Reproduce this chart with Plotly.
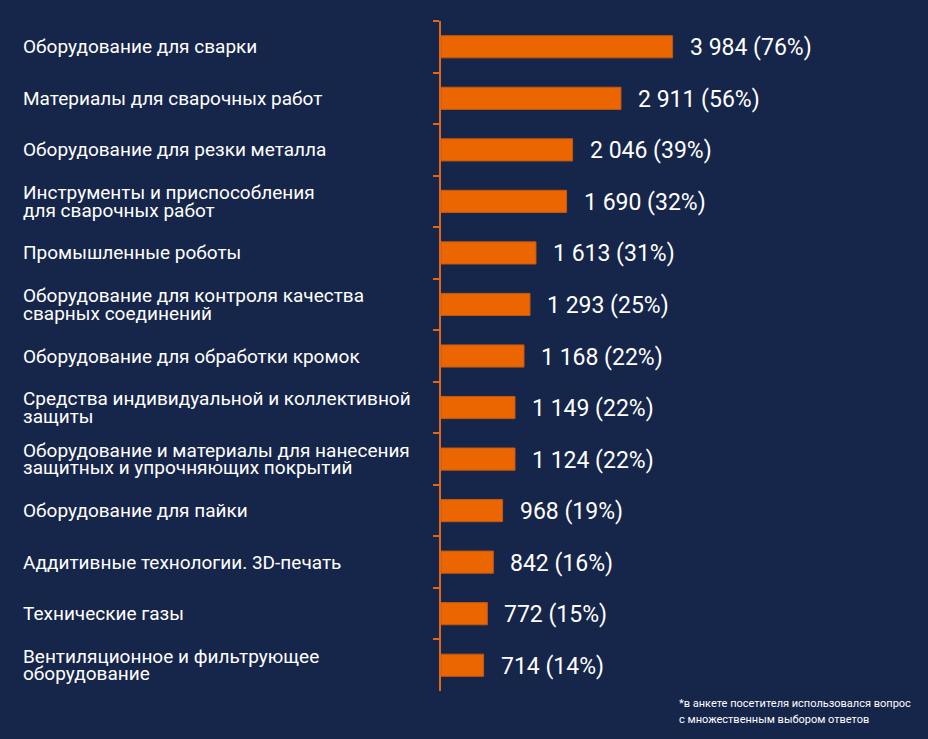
import plotly.graph_objects as go

categories = [
    "Оборудование для сварки",
    "Материалы для сварочных работ",
    "Оборудование для резки металла",
    "Инструменты и приспособления\nдля сварочных работ",
    "Промышленные роботы",
    "Оборудование для контроля качества\nсварных соединений",
    "Оборудование для обработки кромок",
    "Средства индивидуальной и коллективной\nзащиты",
    "Оборудование и материалы для нанесения\nзащитных и упрочняющих покрытий",
    "Оборудование для пайки",
    "Аддитивные технологии. 3D-печать",
    "Технические газы",
    "Вентиляционное и фильтрующее\nоборудование",
]
counts = [3984, 2911, 2046, 1690, 1613, 1293, 1168, 1149, 1124, 968, 842, 772, 714]
shares = [76, 56, 39, 32, 31, 25, 22, 22, 22, 19, 16, 15, 14]
# bar lengths as drawn in the picture (same units as counts, first bar = 3984)
bar_len = [3984, 3096, 2264, 2161, 1634, 1531, 1428, 1273, 1273, 1060, 900, 797, 733]

footnote = ["*в анкете посетителя использовался вопрос", "с множественным выбором ответов"]

BG = "#16254A"
ORANGE = "#EB6600"
FONT = "Roboto"

W, H = 928, 739
ML, MR, MT, MB = 441, 0, 21, 48
PW = W - ML - MR
PH = H - MT - MB

def px_x(x):
    return (x - ML) / PW

def px_y(y):
    return ((H - MB) - y) / PH

ykeys = [c.replace("\n", " ") for c in categories]

fig = go.Figure()
fig.add_trace(go.Bar(
    x=bar_len, y=ykeys, orientation="h", width=0.43,
    marker=dict(color=ORANGE, line=dict(color="#C4580F", width=1)),
    hoverinfo="skip", showlegend=False,
))

annotations = []
for key, cat, n, s, L in zip(ykeys, categories, counts, shares, bar_len):
    lines = cat.split("\n")
    k = len(lines)
    for i, line in enumerate(lines):
        shift = ((k - 1) / 2 - i) * 17.5
        annotations.append(dict(
            x=px_x(21), xref="paper", y=key, yref="y",
            text=line, showarrow=False, xanchor="left", yanchor="middle",
            yshift=shift, font=dict(family=FONT, size=19, color="#FFFFFF"),
        ))
    label = f"{n:,}".replace(",", " ") + f" ({s}%)"
    annotations.append(dict(
        x=L, xref="x", y=key, yref="y", text=label, showarrow=False,
        xanchor="left", yanchor="middle", xshift=15, yshift=-1,
        font=dict(family=FONT, size=23, color="#FFFFFF"),
    ))

for i, line in enumerate(footnote):
    annotations.append(dict(
        x=px_x(677), y=px_y(703 + i * 16), xref="paper", yref="paper", text=line,
        showarrow=False, xanchor="left", yanchor="middle",
        font=dict(family=FONT, size=11, color="#FFFFFF"),
    ))

fig.update_layout(
    width=W, height=H,
    margin=dict(l=ML, r=MR, t=MT, b=MB),
    paper_bgcolor=BG, plot_bgcolor=BG,
    xaxis=dict(range=[0, 8378], visible=False, fixedrange=True),
    yaxis=dict(
        categoryorder="array", categoryarray=ykeys, autorange="reversed",
        showticklabels=False, showgrid=False, zeroline=False,
        showline=True, linecolor="#E0661A", linewidth=1.5,
        ticks="outside", tickson="boundaries", ticklen=6, tickcolor="#E0661A", tickwidth=1.5,
        fixedrange=True,
    ),
    annotations=annotations,
)

fig.write_html("out.html", config={"displayModeBar": False})

with open("out.html", encoding="utf-8") as f:
    html = f.read()
html = html.replace("<head>", "<head><style>html,body{margin:0;padding:0;overflow:hidden;background:#16254A}</style>", 1)
with open("out.html", "w", encoding="utf-8") as f:
    f.write(html)
